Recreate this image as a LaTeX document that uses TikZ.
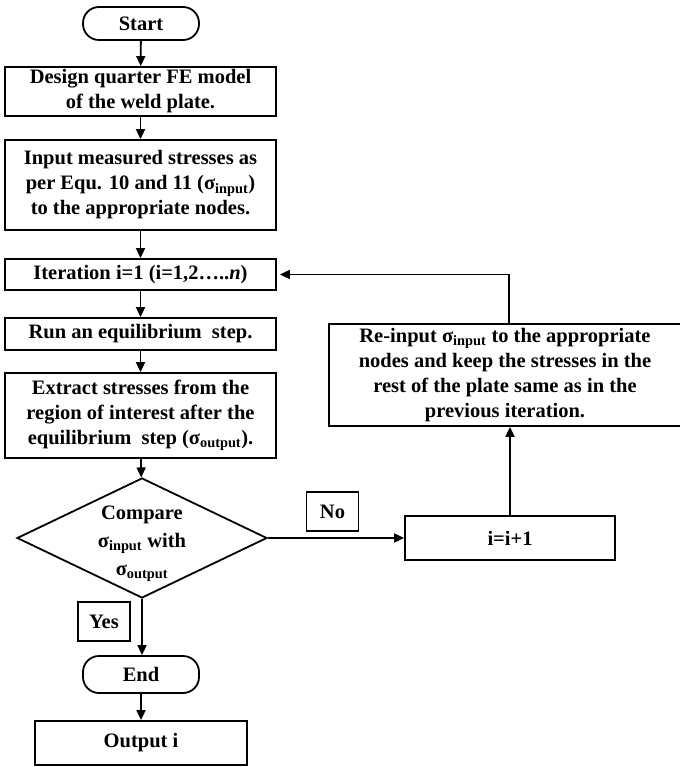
\documentclass[tikz,border=0pt]{standalone}
\usepackage{fontspec}
\setmainfont{Liberation Serif}
\usepackage{tikz}
\usetikzlibrary{arrows.meta}
\usetikzlibrary{shapes.geometric}
\usetikzlibrary{calc}

\newcommand{\sig}[1]{σ\textsubscript{#1}}

\tikzset{
  box/.style={draw,line width=1.8pt,rectangle,align=center,inner sep=1pt,
    font=\bfseries\fontsize{20.5}{25}\selectfont},
  term/.style={box,rounded corners=16pt,minimum width=116pt},
  proc/.style={box,minimum width=271pt},
  decision/.style={box,diamond,minimum width=250pt,minimum height=120pt,inner sep=0pt},
  tag/.style={box,minimum width=52pt,minimum height=39pt},
  flow/.style={line width=1.8pt,->},
}

\begin{document}
\begin{tikzpicture}[x=1pt,y=-1pt,>={Triangle[length=10pt,width=9pt]}]
      \useasboundingbox (0,0) rectangle (679,767);

      % main column
      \node[term,minimum height=33pt] (start) at (141,23.5) {Start};
      \node[proc,minimum height=49pt] (design) at (140.5,91.5) {Design quarter FE model\\of the weld plate.};
      \node[proc,minimum height=90pt] (input) at (140.5,185) {Input measured stresses as\\per Equ. 10 and 11 (\sig{input})\\to the appropriate nodes.};
      \node[proc,minimum height=31pt] (iter) at (140.5,274.5) {Iteration i=1 (i=1,2\ldots..\textit{n})};
      \node[proc,minimum height=32pt] (run) at (140.5,334) {Run an equilibrium\ \ step.};
      \node[proc,minimum height=85pt] (extract) at (140.5,415.5) {Extract stresses from the\\region of interest after the\\equilibrium\ \ step (\sig{output}).};
      % diamond drawn empty, its text set on top
      \node[decision] (cmp) at (142,538) {};
      \node[box,draw=none,font=\bfseries\fontsize{20.5}{28}\selectfont] (cmptext) at ($(cmp.center)+(0,6)$) {Compare\\\sig{input} with\\\sig{output}};
      \node[term,minimum height=37pt] (end) at (141,674.5) {End};
      \node[proc,minimum width=212pt,minimum height=44pt] (out) at (141,743) {Output i};

      % loop back
      \node[box,minimum width=210pt,minimum height=44pt] (inc) at (510,538) {i=i+1};
      \node[box,minimum width=352pt,minimum height=102pt] (reinput) at (505,375) {Re-input \sig{input} to the appropriate\\nodes and keep the stresses in the\\rest of the plate same as in the\\previous iteration.};

      % answers
      \node[tag] (no) at (332.5,511.5) {No};
      \node[tag] (yes) at (104,621.5) {Yes};

      \foreach \a/\b in {start/design,design/input,input/iter,iter/run,run/extract,extract/cmp,end/out}
        \draw[flow] (\a) -- (\b);
      \draw[flow] (cmp.south) -- (cmp.south |- end.north);
      \draw[flow] (cmp.east) -- (inc.west);
      \draw[flow] (inc.north) -- (inc.north |- reinput.south);
      \draw[flow,shorten >=3pt] ($(reinput.north)+(4,0)$) |- (iter.east);
\end{tikzpicture}
\end{document}
